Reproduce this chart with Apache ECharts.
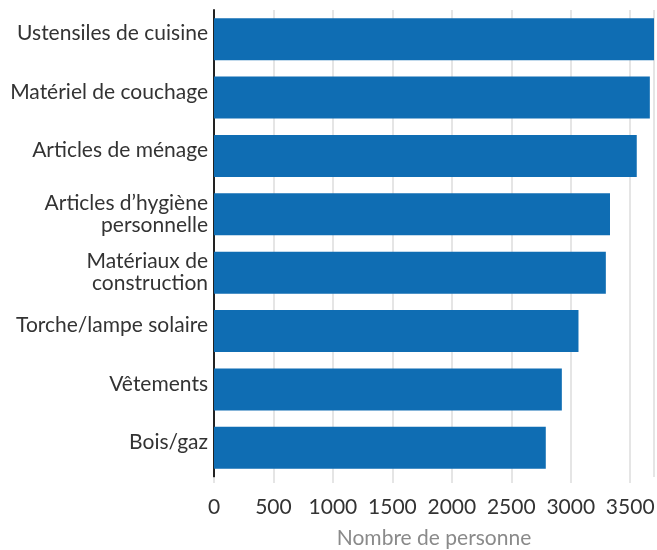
<!DOCTYPE html>
<html>
<head>
<meta charset="utf-8">
<script src="https://cdn.jsdelivr.net/npm/echarts@6/dist/echarts.min.js"></script>
<style>
  html, body { margin: 0; padding: 0; background: #fff; }
  #chart { width: 657px; height: 550px; }
</style>
</head>
<body>
<div id="chart"></div>
<script>
  // categories listed bottom to top (category axis draws first item at the bottom)
  let categories = ['Bois/gaz', 'Vêtements', 'Torche/lampe solaire', 'Matériaux de\nconstruction',
    'Articles d’hygiène\npersonnelle', 'Articles de ménage', 'Matériel de couchage', 'Ustensiles de cuisine'];
  let values = [2790, 2925, 3065, 3295, 3330, 3555, 3665, 3700];
  let xTicks = [0, 500, 1000, 1500, 2000, 2500, 3000, 3500];

  let chart = echarts.init(document.getElementById('chart'));
  let font = 'Lato, "Open Sans", sans-serif';
  let option = {
    backgroundColor: '#fff',
    animation: false,
    grid: {
      left: 214,
      right: 3,
      top: 10,
      bottom: 73,
      outerBoundsMode: 'none'
    },
    xAxis: {
      type: 'value',
      min: 0,
      max: 3700,
      interval: 500,
      name: 'Nombre de personne',
      nameLocation: 'middle',
      nameGap: 51,
      nameTextStyle: { color: '#8a8a8a', fontSize: 21, fontFamily: font },
      axisLine: { show: false },
      axisTick: { show: true, length: 6, lineStyle: { color: '#dddddd', width: 1.5 } },
      axisLabel: {
        color: '#333',
        fontSize: 21,
        fontFamily: font,
        margin: 20,
        showMaxLabel: false,
        formatter: function (v) { return xTicks.indexOf(v) >= 0 ? String(v) : ''; }
      },
      splitLine: { show: true, lineStyle: { color: '#dddddd', width: 1.5 } }
    },
    yAxis: {
      type: 'category',
      data: categories,
      axisLine: { show: true, lineStyle: { color: '#222', width: 2 } },
      axisTick: { show: false },
      axisLabel: {
        color: '#333',
        fontSize: 21,
        fontFamily: font,
        margin: 6,
        lineHeight: 22,
        // single-line labels sit a little above the bar centre in the original
        formatter: function (v) {
          return v.indexOf('\n') >= 0 ? v : '{up|' + v + '}';
        },
        rich: {
          up: {
            color: '#333',
            fontSize: 21,
            fontFamily: font,
            lineHeight: 22,
            padding: [0, 0, 11, 0]
          }
        }
      }
    },
    series: [{
      type: 'bar',
      data: values,
      barWidth: '72%',
      itemStyle: { color: '#0f6db3' }
    }]
  };
  chart.setOption(option);
  window.addEventListener('resize', function () {
    chart.resize();
  });
</script>
</body>
</html>
